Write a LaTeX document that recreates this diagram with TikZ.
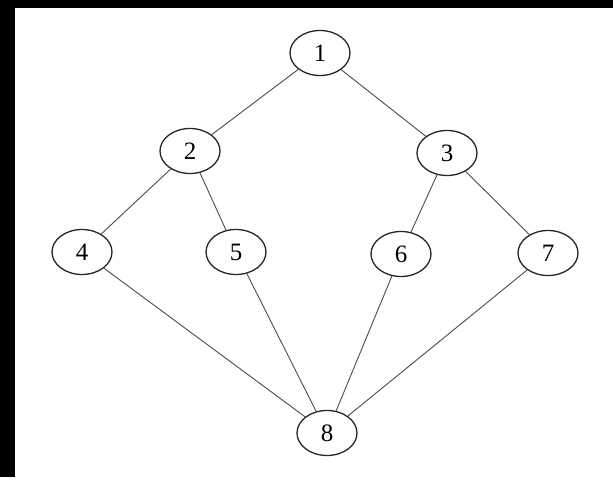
\documentclass[tikz,border=0pt]{standalone}
\usepackage{fontspec}
\setmainfont{Liberation Serif}
\usetikzlibrary{shapes.geometric}
\begin{document}
\begin{tikzpicture}[x=1pt,y=1pt,
  vert/.style={draw=black!85,line width=1.3pt,ellipse,minimum width=60pt,minimum height=45pt,inner sep=0pt,font=\fontsize{25}{25}\selectfont},
  edge/.style={draw=black!70,line width=0.9pt}]
\useasboundingbox (0,0) rectangle (613,477);
\fill[white] (0,0) rectangle (613,477);
\fill[black] (0,0) rectangle (15,477);
\fill[black] (0,469) rectangle (613,477);
\node[vert] (n1) at (320,424) {1};
\node[vert] (n2) at (190,326) {2};
\node[vert] (n3) at (447,324) {3};
\node[vert] (n4) at (82,225) {4};
\node[vert] (n5) at (236,225) {5};
\node[vert] (n6) at (401,223) {6};
\node[vert] (n7) at (548,224) {7};
\node[vert] (n8) at (327,44) {8};
\draw[edge] (n1) -- (n2);
\draw[edge] (n1) -- (n3);
\draw[edge] (n2) -- (n4);
\draw[edge] (n2) -- (n5);
\draw[edge] (n3) -- (n6);
\draw[edge] (n3) -- (n7);
\draw[edge] (n4) -- (n8);
\draw[edge] (n5) -- (n8);
\draw[edge] (n6) -- (n8);
\draw[edge] (n7) -- (n8);
\end{tikzpicture}
\end{document}
